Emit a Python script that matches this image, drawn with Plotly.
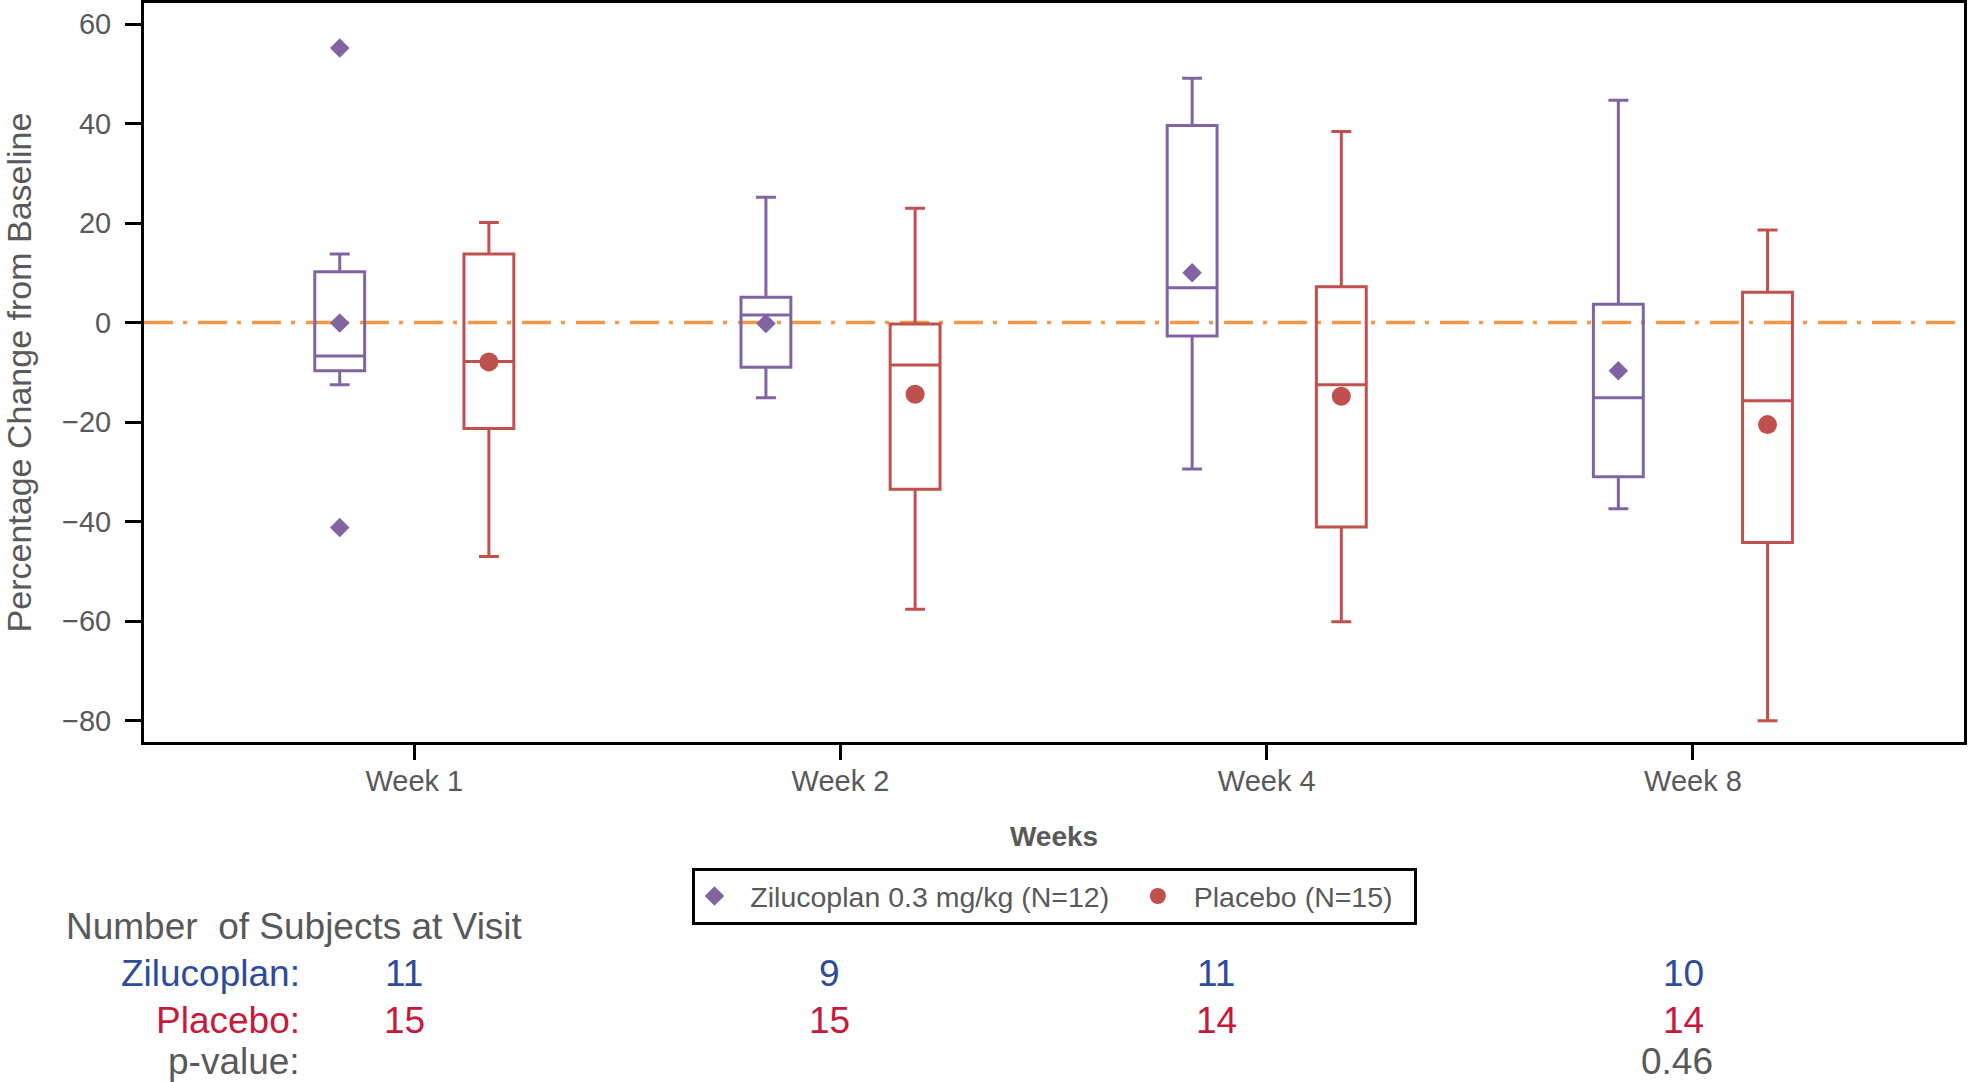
import plotly.graph_objects as go

# ---------------- data ----------------
weeks = ["Week 1", "Week 2", "Week 4", "Week 8"]

zil_upper = [13.8, 25.2, 49.1, 44.7]
zil_q3 = [10.2, 5.1, 39.6, 3.7]
zil_median = [-6.7, 1.5, 7.0, -15.1]
zil_q1 = [-9.7, -9.0, -2.7, -31.0]
zil_lower = [-12.5, -15.1, -29.4, -37.4]
zil_mean = [-0.1, -0.2, 10.0, -9.7]
zil_outlier_week = [0, 0]
zil_outlier_value = [55.2, -41.2]

pbo_upper = [20.1, 23.0, 38.4, 18.6]
pbo_q3 = [13.8, -0.3, 7.2, 6.1]
pbo_median = [-7.8, -8.5, -12.5, -15.7]
pbo_q1 = [-21.3, -33.5, -41.1, -44.2]
pbo_lower = [-47.0, -57.6, -60.1, -80.0]
pbo_mean = [-7.9, -14.4, -14.8, -20.5]

n_zil = [11, 9, 11, 10]
n_pbo = [15, 15, 14, 14]
p_values = ["", "", "", "0.46"]

y_ticks = [-80, -60, -40, -20, 0, 20, 40, 60]

# ---------------- styling ----------------
FONT = "Liberation Sans, Arial, sans-serif"
GRAY = "#595959"
PURPLE = "#8064A2"
RED = "#C0504D"
ORANGE = "#F79646"
BLUE_TXT = "#2E4B9B"
RED_TXT = "#C8193C"
NB = "\u00a0"

OFF = 0.175
BOXW = 0.117
pos = list(range(len(weeks)))
zx = [p - OFF for p in pos]
px_ = [p + OFF for p in pos]

fig = go.Figure()

fig.add_trace(go.Box(
    x=zx, q1=zil_q1, median=zil_median, q3=zil_q3,
    lowerfence=zil_lower, upperfence=zil_upper,
    width=BOXW, whiskerwidth=0.4, boxpoints=False,
    line=dict(color=PURPLE, width=3), fillcolor="rgba(0,0,0,0)",
    showlegend=False, hoverinfo="skip"))

fig.add_trace(go.Box(
    x=px_, q1=pbo_q1, median=pbo_median, q3=pbo_q3,
    lowerfence=pbo_lower, upperfence=pbo_upper,
    width=BOXW, whiskerwidth=0.4, boxpoints=False,
    line=dict(color=RED, width=3), fillcolor="rgba(0,0,0,0)",
    showlegend=False, hoverinfo="skip"))

fig.add_trace(go.Scatter(
    x=[zx[i] for i in zil_outlier_week], y=zil_outlier_value, mode="markers",
    marker=dict(symbol="diamond", size=15, color=PURPLE),
    showlegend=False))

fig.add_trace(go.Scatter(
    x=zx, y=zil_mean, mode="markers",
    marker=dict(symbol="diamond", size=15, color=PURPLE),
    name=NB * 2 + "Zilucoplan 0.3 mg/kg (N=12)" + NB * 3))

fig.add_trace(go.Scatter(
    x=px_, y=pbo_mean, mode="markers",
    marker=dict(symbol="circle", size=19, color=RED),
    name=NB * 2 + "Placebo (N=15)" + NB * 2))

# reference line at 0
fig.add_shape(type="line", xref="paper", x0=0, x1=1, yref="y", y0=0, y1=0,
              line=dict(color=ORANGE, width=3.5, dash="29px,10px,4px,11px"),
              layer="below")

# ---------------- table below ----------------
ROW_TITLE = -0.2503
ROW_Z = -0.3139
ROW_P = -0.3775
ROW_PV = -0.4320
LABEL_X = 0.0868
COL_X = [-0.024, 0.973, 1.882, 2.977]
TBL_SIZE = 37

fig.add_annotation(text="Number  of Subjects at Visit", xref="paper", yref="paper",
                   x=-0.044, y=ROW_TITLE, xanchor="left", yanchor="middle",
                   showarrow=False, font=dict(family=FONT, size=TBL_SIZE, color=GRAY))
for label, yy, col in [("Zilucoplan:", ROW_Z, BLUE_TXT), ("Placebo:", ROW_P, RED_TXT),
                       ("p-value:", ROW_PV, GRAY)]:
    fig.add_annotation(text=label, xref="paper", yref="paper", x=LABEL_X, y=yy,
                       xanchor="right", yanchor="middle", showarrow=False,
                       font=dict(family=FONT, size=TBL_SIZE, color=col))
for i in range(len(weeks)):
    fig.add_annotation(text=str(n_zil[i]), xref="x", yref="paper", x=COL_X[i], y=ROW_Z,
                       xanchor="center", yanchor="middle", showarrow=False,
                       font=dict(family=FONT, size=TBL_SIZE, color=BLUE_TXT))
    fig.add_annotation(text=str(n_pbo[i]), xref="x", yref="paper", x=COL_X[i], y=ROW_P,
                       xanchor="center", yanchor="middle", showarrow=False,
                       font=dict(family=FONT, size=TBL_SIZE, color=RED_TXT))
    if p_values[i]:
        fig.add_annotation(text=p_values[i], xref="x", yref="paper", x=COL_X[i] - 0.014, y=ROW_PV,
                           xanchor="center", yanchor="middle", showarrow=False,
                           font=dict(family=FONT, size=TBL_SIZE, color=GRAY))

fig.update_layout(
    width=1969, height=1082,
    margin=dict(l=144, r=5, t=3, b=340),
    paper_bgcolor="white", plot_bgcolor="white",
    font=dict(family=FONT, color=GRAY, size=28),
    boxmode="overlay",
    legend=dict(orientation="h", x=0.5, xanchor="center", y=-0.1705, yanchor="top",
                bordercolor="black", borderwidth=3, bgcolor="white",
                font=dict(family=FONT, size=28.5, color=GRAY)),
    xaxis=dict(range=[-0.6342, 3.636], tickvals=pos, ticktext=weeks, automargin=False,
               showline=True, linecolor="black", linewidth=3, mirror=True,
               ticks="outside", ticklen=15, tickwidth=3, tickcolor="black",
               showgrid=False, zeroline=False, ticklabelstandoff=-4,
               tickfont=dict(family=FONT, size=29, color=GRAY),
               title=dict(text="<b>Weeks</b>", standoff=31,
                          font=dict(family=FONT, size=28, color=GRAY))),
    yaxis=dict(range=[-84.28, 64.22], tickvals=y_ticks, automargin=False,
               showline=True, linecolor="black", linewidth=3, mirror=True,
               ticks="outside", ticklen=16, tickwidth=3, tickcolor="black",
               showgrid=False, zeroline=False, ticklabelstandoff=8,
               tickfont=dict(family=FONT, size=29, color=GRAY),
               title=dict(text="Percentage Change from Baseline", standoff=48,
                          font=dict(family=FONT, size=34, color=GRAY))),
)

fig.write_html("out.html", config={"displayModeBar": False},
               post_script="document.body.style.margin='0';document.body.style.overflow='hidden';")
